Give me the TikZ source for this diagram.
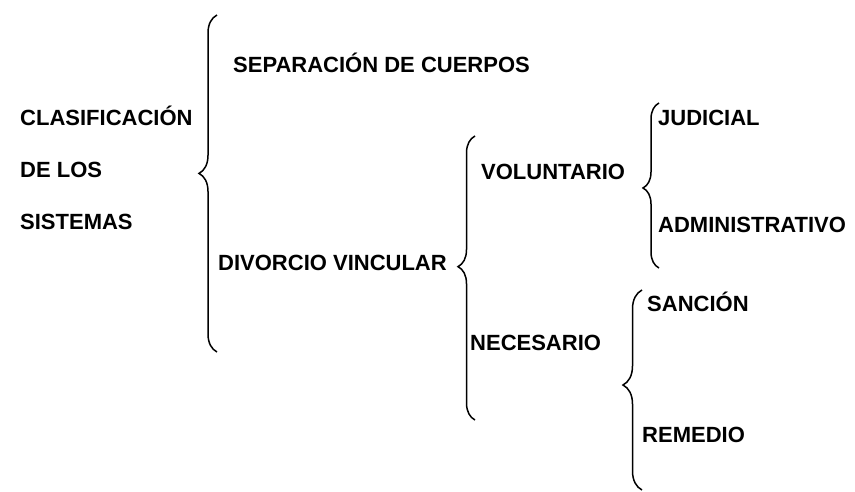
\documentclass[tikz,border=0pt]{standalone}
\usepackage{fontspec}
\setmainfont{Liberation Sans}
\usetikzlibrary{decorations.pathreplacing}
\begin{document}
\begin{tikzpicture}[x=1pt,y=-1pt,
  lbl/.style={anchor=base west,inner sep=0pt,font=\fontsize{22}{26}\selectfont\bfseries},
  bracestyle/.style={draw=black,line width=1.5pt,decorate,
    decoration={brace,amplitude=#1}},
  bracestyle/.default=18pt]
\useasboundingbox (0,0) rectangle (855,491);
% text nodes
\node[lbl] (clas) at (20,125) {CLASIFICACIÓN};
\node[lbl] (delos) at (20,177) {DE LOS};
\node[lbl] (sist) at (20,229) {SISTEMAS};
\node[lbl] (sep) at (233,72) {SEPARACIÓN DE CUERPOS};
\node[lbl] (div) at (218,270) {DIVORCIO VINCULAR};
\node[lbl] (vol) at (481,179) {VOLUNTARIO};
\node[lbl] (nec) at (470,350) {NECESARIO};
\node[lbl] (jud) at (658,125) {JUDICIAL};
\node[lbl] (adm) at (658,232) {ADMINISTRATIVO};
\node[lbl] (san) at (647,311) {SANCIÓN};
\node[lbl] (rem) at (642,442) {REMEDIO};
% brace end points
\coordinate (b1b) at (217,352); \coordinate (b1t) at (217,15);
\coordinate (b2b) at (475,420); \coordinate (b2t) at (475,136);
\coordinate (b3b) at (659,268); \coordinate (b3t) at (659,103);
\coordinate (b4b) at (642,490); \coordinate (b4t) at (642,290);
% braces
\draw[bracestyle=18pt,decoration={aspect=0.53}] (b1b) -- (b1t);
\draw[bracestyle=17pt,decoration={aspect=0.54}] (b2b) -- (b2t);
\draw[bracestyle=16pt,decoration={aspect=0.485}] (b3b) -- (b3t);
\draw[bracestyle=19pt,decoration={aspect=0.525}] (b4b) -- (b4t);
\end{tikzpicture}
\end{document}
